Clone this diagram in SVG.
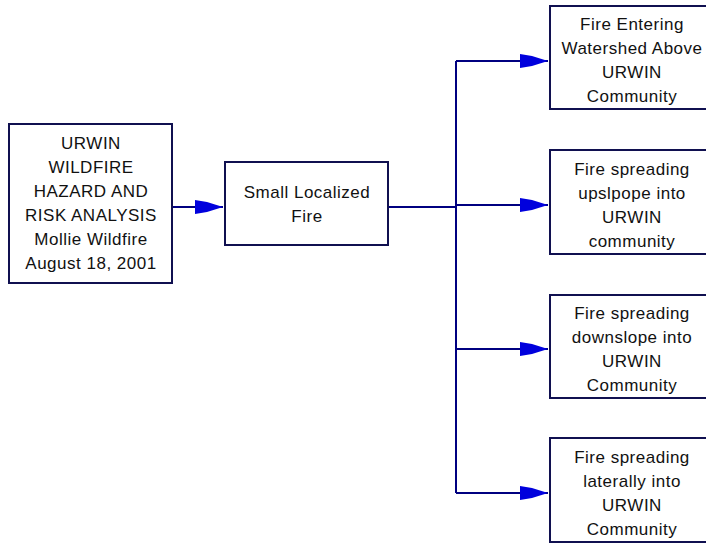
<svg xmlns="http://www.w3.org/2000/svg" width="706" height="544" viewBox="0 0 706 544">
<style>
.box{fill:#fff;stroke:#101050;stroke-width:2}
.t{font-family:"Liberation Sans",Arial,sans-serif;font-size:17px;letter-spacing:0.5px;fill:#111;text-anchor:middle}
.ln{stroke:#000080;stroke-width:2;fill:none}
</style>
<defs>
<marker id="ah" markerUnits="userSpaceOnUse" markerWidth="30" markerHeight="16" refX="28" refY="8" orient="auto">
<path d="M0,1 L12,3 L28,8 L12,13 L0,15 Z" fill="#0000dd"/>
</marker>
</defs>
<rect width="706" height="544" fill="#fff"/>
<g id="connectors">
<path class="ln" d="M173,207 H223" marker-end="url(#ah)"/>
<path class="ln" d="M389,207 H456"/>
<path class="ln" d="M456,61 V493"/>
<path class="ln" d="M456,61 H548" marker-end="url(#ah)"/>
<path class="ln" d="M456,205 H548" marker-end="url(#ah)"/>
<path class="ln" d="M456,349 H548" marker-end="url(#ah)"/>
<path class="ln" d="M456,493 H548" marker-end="url(#ah)"/>
</g>
<g id="n-title">
<rect class="box" x="9" y="124" width="163" height="159"/>
<text class="t" x="91" y="149">URWIN</text>
<text class="t" x="91" y="173">WILDFIRE</text>
<text class="t" x="91" y="197">HAZARD AND</text>
<text class="t" x="91" y="221">RISK ANALYSIS</text>
<text class="t" x="91" y="245">Mollie Wildfire</text>
<text class="t" x="91" y="269">August 18, 2001</text>
</g>
<g id="n-small">
<rect class="box" x="225" y="162" width="163" height="83"/>
<text class="t" x="307" y="198">Small Localized</text>
<text class="t" x="307" y="222">Fire</text>
</g>
<g id="n-watershed">
<rect class="box" x="550" y="6" width="164" height="103"/>
<text class="t" x="632" y="30">Fire Entering</text>
<text class="t" x="632" y="54">Watershed Above</text>
<text class="t" x="632" y="78">URWIN</text>
<text class="t" x="632" y="102">Community</text>
</g>
<g id="n-upslope">
<rect class="box" x="550" y="150" width="164" height="104"/>
<text class="t" x="632" y="175">Fire spreading</text>
<text class="t" x="632" y="199">upslpope into</text>
<text class="t" x="632" y="223">URWIN</text>
<text class="t" x="632" y="247">community</text>
</g>
<g id="n-downslope">
<rect class="box" x="550" y="295" width="164" height="103"/>
<text class="t" x="632" y="319">Fire spreading</text>
<text class="t" x="632" y="343">downslope into</text>
<text class="t" x="632" y="367">URWIN</text>
<text class="t" x="632" y="391">Community</text>
</g>
<g id="n-laterally">
<rect class="box" x="550" y="438" width="164" height="104"/>
<text class="t" x="632" y="463">Fire spreading</text>
<text class="t" x="632" y="487">laterally into</text>
<text class="t" x="632" y="511">URWIN</text>
<text class="t" x="632" y="535">Community</text>
</g>
</svg>
